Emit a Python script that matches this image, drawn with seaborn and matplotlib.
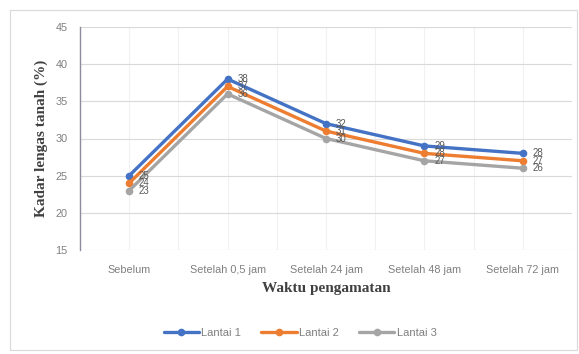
import matplotlib
matplotlib.use("Agg")
import matplotlib.pyplot as plt
from matplotlib.patches import Rectangle
import numpy as np
import pandas as pd
import seaborn as sns

# Observation times and soil moisture per floor
times = ["Sebelum", "Setelah 0,5 jam", "Setelah 24 jam", "Setelah 48 jam", "Setelah 72 jam"]
lantai_1 = [25, 38, 32, 29, 28]
lantai_2 = [24, 37, 31, 28, 27]
lantai_3 = [23, 36, 30, 27, 26]
series_names = ["Lantai 1", "Lantai 2", "Lantai 3"]
y_ticks = [15, 20, 25, 30, 35, 40, 45]

colors = ["#4472C4", "#ED7D31", "#A5A5A5"]

rows = []
for name, vals in zip(series_names, [lantai_1, lantai_2, lantai_3]):
    for i, v in enumerate(vals):
        rows.append({"pos": i, "kadar": v, "seri": name})
df = pd.DataFrame(rows)

sns.set_theme(style="white")
plt.rcParams["font.family"] = ["Liberation Sans", "DejaVu Sans"]

fig = plt.figure(figsize=(5.79, 3.54), dpi=100)
ax = fig.add_axes([80 / 579, 1 - 250 / 354, 492 / 579, 223 / 354])

# light vertical grid at category centres and boundaries
for xv in np.arange(-0.5, 4.51, 0.5):
    ax.axvline(xv, color="#f1f1f1", lw=0.8, zorder=0)
for yv in y_ticks:
    ax.axhline(yv, color="#d9d9d9", lw=0.8, zorder=0)

sns.lineplot(data=df, x="pos", y="kadar", hue="seri", palette=colors,
             marker="o", markersize=5.5, markeredgewidth=0, lw=2.4,
             ax=ax, legend=False, zorder=3)

# value labels to the right of each point
for name, vals in zip(series_names, [lantai_1, lantai_2, lantai_3]):
    for i, v in enumerate(vals):
        ax.annotate(f"{v}", (i, v), xytext=(7, 0), textcoords="offset points",
                    ha="left", va="center", fontsize=7, color="#595959", zorder=4)

ax.set_xlim(-0.5, 4.5)
ax.set_ylim(15, 45)
ax.set_yticks(y_ticks)
ax.set_xticks(range(len(times)))
ax.set_xticklabels(times)
ax.tick_params(axis="both", length=0, labelsize=7.8, labelcolor="#7f7f7f")
ax.tick_params(axis="y", pad=9)
ax.tick_params(axis="x", pad=11)

for side in ["top", "right", "bottom"]:
    ax.spines[side].set_visible(False)
ax.spines["left"].set_color("#8c8c9c")
ax.spines["left"].set_linewidth(1.0)

ax.set_xlabel("Waktu pengamatan", fontsize=11, fontweight="bold",
              family="Liberation Serif", color="#404040", labelpad=5)
ax.set_ylabel("Kadar lengas tanah (%)", fontsize=11, fontweight="bold",
              family="Liberation Serif", color="#404040", labelpad=5)

handles = [plt.Line2D([], [], color=c, lw=2.4, marker="o", markersize=5.5,
                      markeredgewidth=0) for c in colors]
fig.legend(handles, series_names, loc="center", bbox_to_anchor=(300 / 579, 1 - 333 / 354),
           ncol=3, frameon=False, fontsize=8, labelcolor="#7f7f7f",
           handlelength=3.2, handletextpad=0.2, columnspacing=1.8)

# outer chart border
fig.patches.append(Rectangle((10 / 579, 4 / 354), 567 / 579, 340 / 354,
                             transform=fig.transFigure, fill=False,
                             edgecolor="#d9d9d9", lw=0.8))

fig.savefig("out.png", dpi=100)
